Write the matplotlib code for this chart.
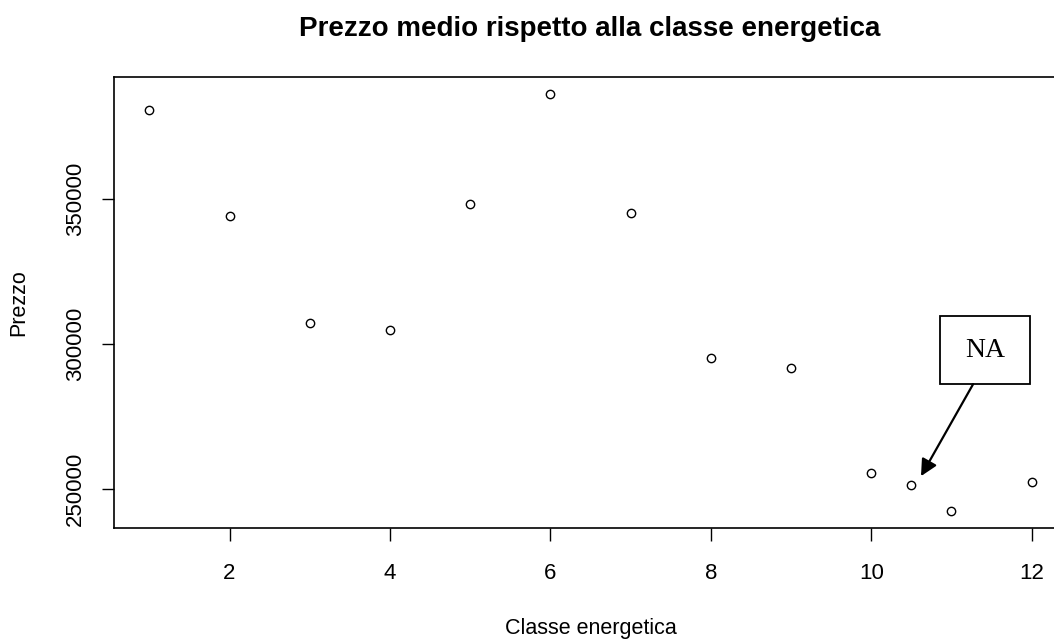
import matplotlib
matplotlib.use("Agg")
import matplotlib.pyplot as plt
from matplotlib.patches import Rectangle

plt.rcParams['font.family'] = ['Liberation Sans', 'DejaVu Sans']

# mean price by energy class (10.5 = class with missing label)
classe = [1, 2, 3, 4, 5, 6, 7, 8, 9, 10, 10.5, 11, 12]
prezzo = [380700, 344100, 307200, 304800, 348300, 386200, 345200,
          295200, 291700, 255500, 251400, 242400, 252400]

W, H = 1054, 640
fig = plt.figure(figsize=(W / 100, H / 100), dpi=100)
L, R, B, T = 114, 1067, 528, 77
ax = fig.add_axes([L / W, (H - B) / H, (R - L) / W, (B - T) / H])

ax.plot(classe, prezzo, linestyle='none', marker='o', markersize=6,
        markerfacecolor='none', markeredgecolor='black', markeredgewidth=1)

span = max(classe) - min(classe)
ax.set_xlim(min(classe) - 0.04 * span, max(classe) + 0.04 * span)
yspan = max(prezzo) - min(prezzo)
ax.set_ylim(min(prezzo) - 0.04 * yspan, max(prezzo) + 0.04 * yspan)

ax.set_xticks([2, 4, 6, 8, 10, 12])
ax.set_yticks([250000, 300000, 350000])
ax.tick_params(axis='both', direction='out', length=9, width=1, labelsize=16)
ax.tick_params(axis='x', pad=16)
ax.tick_params(axis='y', pad=11)
for lab in ax.get_yticklabels():
    lab.set_rotation(90)
    lab.set_va('center')
for s in ax.spines.values():
    s.set_linewidth(1.2)

ax.set_xlabel('Classe energetica', fontsize=15.5, labelpad=25)
ax.set_ylabel('Prezzo', fontsize=15.5, labelpad=26)
fig.text(590 / W, 1 - 29 / H, 'Prezzo medio rispetto alla classe energetica',
         ha='center', va='center', fontsize=20, fontweight='bold')

# "NA" callout box with arrow
ax.add_patch(Rectangle((10.86, 286200), 1.12, 23450, facecolor='white',
                       edgecolor='black', linewidth=1.3, clip_on=False, zorder=3))
ax.text(11.42, 297900, 'NA', fontsize=20, family=['Liberation Serif', 'DejaVu Serif'],
        ha='center', va='center', zorder=4)
ax.annotate('', xy=(10.62, 254500), xytext=(11.27, 286200),
            arrowprops=dict(arrowstyle='-|>', color='black', lw=1.6,
                            mutation_scale=25, shrinkA=0, shrinkB=0))

fig.savefig('out.png', dpi=100)
